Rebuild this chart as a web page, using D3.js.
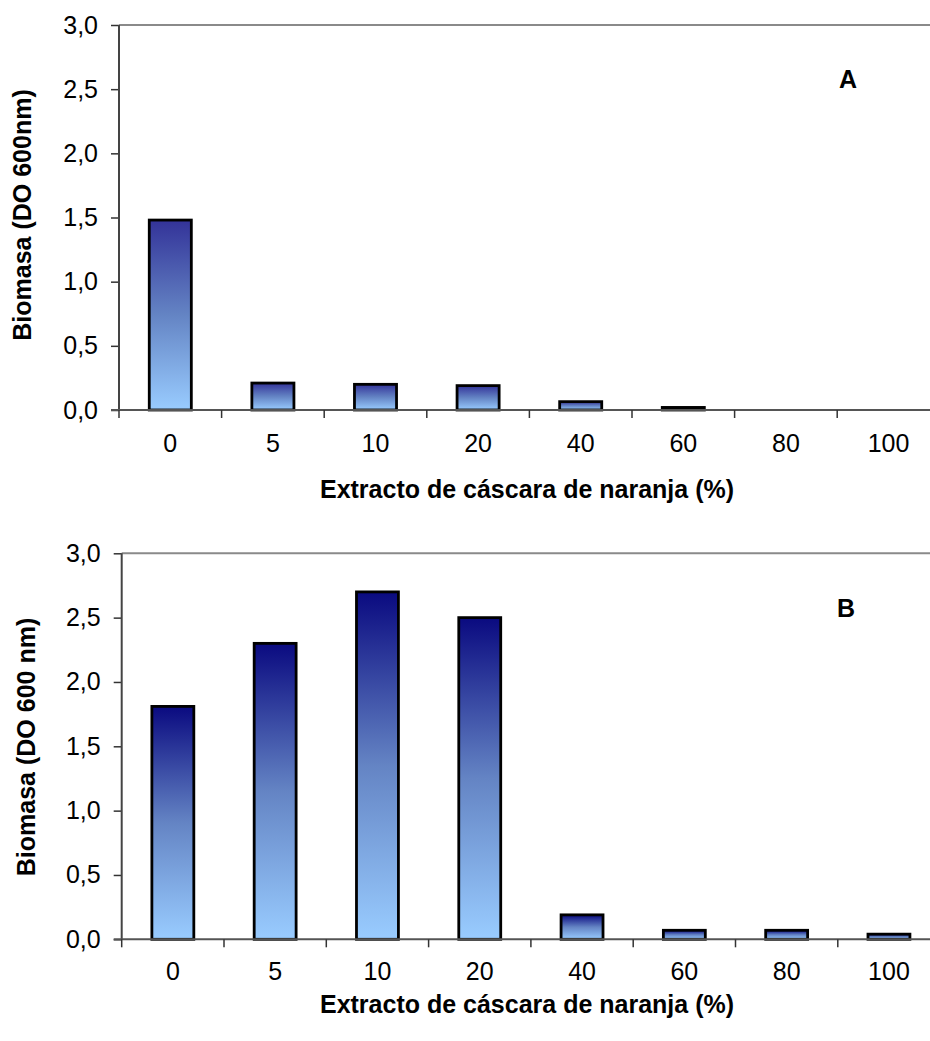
<!DOCTYPE html>
<html>
<head>
<meta charset="utf-8">
<script src="https://cdn.jsdelivr.net/npm/d3@7"></script>
<style>
  html, body { margin: 0; padding: 0; background: #ffffff; }
  svg { display: block; }
  text { font-family: "Liberation Sans", Arial, sans-serif; fill: #000; }
</style>
</head>
<body>
<svg id="chart" width="930" height="1041"></svg>
<script>
// Extract concentrations (% orange peel extract)
const categories = ["0", "5", "10", "20", "40", "60", "80", "100"];
// Biomass (OD 600 nm), panel A
const biomasaA = [1.48, 0.21, 0.20, 0.19, 0.065, 0.02, 0, 0];
// Biomass (OD 600 nm), panel B
const biomasaB = [1.81, 2.30, 2.70, 2.50, 0.19, 0.07, 0.07, 0.04];
const yTicks = [0, 0.5, 1.0, 1.5, 2.0, 2.5, 3.0];

const svg = d3.select("#chart");
const defs = svg.append("defs");
const fmt = d => d3.format(".1f")(d).replace(".", ",");

function gradient(id, top) {
  const g = defs.append("linearGradient")
    .attr("id", id).attr("x1", 0).attr("y1", 0).attr("x2", 0).attr("y2", 1);
  g.append("stop").attr("offset", "0%").attr("stop-color", top);
  g.append("stop").attr("offset", "50%").attr("stop-color", "#6484c4");
  g.append("stop").attr("offset", "100%").attr("stop-color", "#99ccff");
}
gradient("gradA", "#333399");
gradient("gradB", "#0a0a80");

function panel(cfg) {
  const g = svg.append("g");
  const x = d3.scaleBand().domain(categories).range([cfg.left, cfg.left + 8 * cfg.step]).padding(0);
  const y = d3.scaleLinear().domain([0, 3]).range([cfg.bottom, cfg.top]);

  // plot area top border
  g.append("line")
    .attr("x1", cfg.left).attr("x2", 930)
    .attr("y1", cfg.top).attr("y2", cfg.top)
    .attr("stroke", "#8a8a8a").attr("stroke-width", 2);

  // y axis
  const yAxis = g.append("g")
    .attr("transform", `translate(${cfg.left},0)`)
    .call(d3.axisLeft(y).tickValues(yTicks).tickFormat(fmt).tickSize(8).tickPadding(13));
  yAxis.select(".domain").remove();
  yAxis.selectAll(".tick line").attr("stroke", "#333").attr("stroke-width", 1.5);
  yAxis.selectAll(".tick text")
    .style("font-family", "'Liberation Sans', Arial, sans-serif")
    .style("font-size", "25px").attr("fill", "#000");
  g.append("line")
    .attr("x1", cfg.left).attr("x2", cfg.left)
    .attr("y1", cfg.top).attr("y2", cfg.bottom)
    .attr("stroke", "#444").attr("stroke-width", 2);

  // bars
  const bw = x.bandwidth() * 0.41;
  g.selectAll("rect.bar")
    .data(cfg.values)
    .join("rect")
    .attr("class", "bar")
    .attr("x", (d, i) => x(categories[i]) + (x.bandwidth() - bw) / 2)
    .attr("width", bw)
    .attr("y", d => y(d))
    .attr("height", d => y(0) - y(d))
    .attr("fill", `url(#${cfg.grad})`)
    .attr("stroke", "#000")
    .attr("stroke-width", d => d > 0 ? 2.8 : 0);

  // x axis line and tick marks at category boundaries
  g.append("line")
    .attr("x1", cfg.left - 8).attr("x2", 930)
    .attr("y1", cfg.bottom).attr("y2", cfg.bottom)
    .attr("stroke", "#555").attr("stroke-width", 2);
  g.selectAll("line.xtick")
    .data(categories)
    .join("line")
    .attr("class", "xtick")
    .attr("x1", d => x(d)).attr("x2", d => x(d))
    .attr("y1", cfg.bottom).attr("y2", cfg.bottom + 8)
    .attr("stroke", "#333").attr("stroke-width", 1.5);

  // category labels
  g.selectAll("text.xlab")
    .data(categories)
    .join("text")
    .attr("class", "xlab")
    .attr("x", d => x(d) + x.bandwidth() / 2)
    .attr("y", cfg.xLabelY)
    .attr("text-anchor", "middle")
    .style("font-size", "25px")
    .text(d => d);

  // axis titles
  g.append("text")
    .attr("x", 527).attr("y", cfg.xTitleY)
    .attr("text-anchor", "middle")
    .style("font-size", "25px").style("font-weight", "bold")
    .text("Extracto de cáscara de naranja (%)");
  g.append("text")
    .attr("transform", `translate(${cfg.yTitleX},${cfg.yTitleCY}) rotate(-90)`)
    .attr("text-anchor", "middle")
    .style("font-size", "25px").style("font-weight", "bold")
    .text(cfg.yTitle);

  // panel letter
  g.append("text")
    .attr("x", cfg.letterX).attr("y", cfg.letterY)
    .attr("text-anchor", "middle")
    .style("font-size", "25px").style("font-weight", "bold")
    .text(cfg.letter);
}

panel({
  values: biomasaA, grad: "gradA",
  left: 119, step: 102.6, top: 25, bottom: 410,
  xLabelY: 452, xTitleY: 498,
  yTitle: "Biomasa (DO 600nm)", yTitleX: 31, yTitleCY: 215,
  letter: "A", letterX: 848, letterY: 88
});

panel({
  values: biomasaB, grad: "gradB",
  left: 121.7, step: 102.3, top: 553.3, bottom: 939.3,
  xLabelY: 980, xTitleY: 1013,
  yTitle: "Biomasa (DO 600 nm)", yTitleX: 35, yTitleCY: 747,
  letter: "B", letterX: 846, letterY: 617
});
</script>
</body>
</html>
